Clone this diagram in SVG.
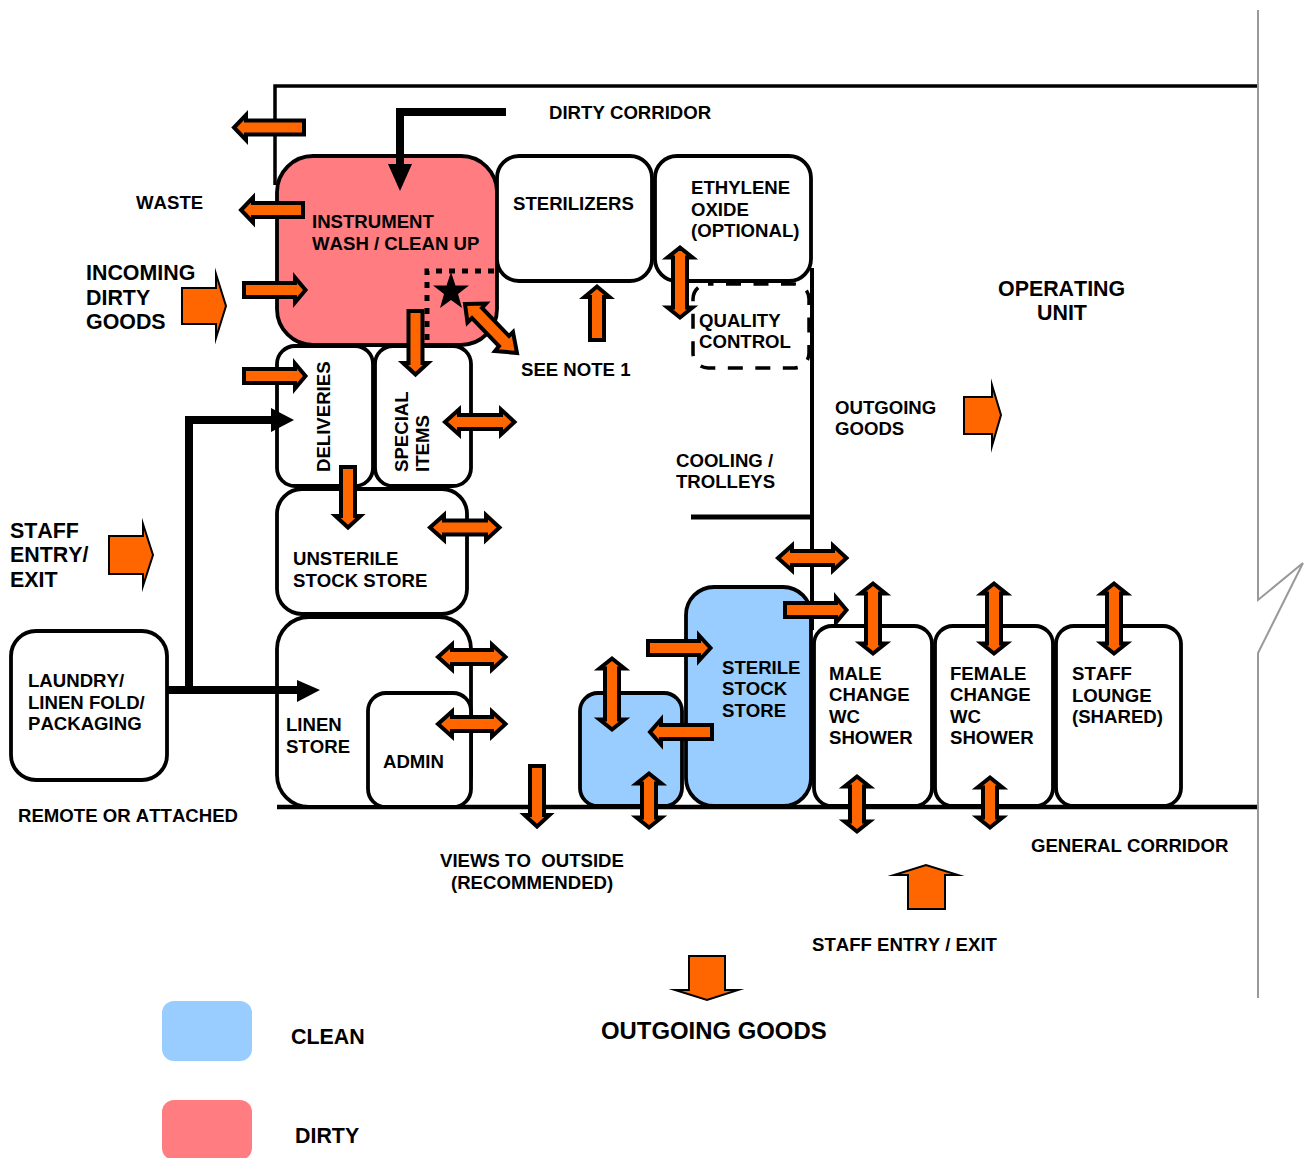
<svg xmlns="http://www.w3.org/2000/svg" width="1310" height="1158" viewBox="0 0 1310 1158">
<style>
.r{fill:#fff;stroke:#000;stroke-width:3.8}
.d{fill:#ff7c80}
.c{fill:#9cf}
.a{fill:#f60;stroke:#000;stroke-width:4;stroke-miterlimit:6}
.b{fill:#f60;stroke:#000;stroke-width:2;stroke-miterlimit:8}
.l{fill:none;stroke:#000}
text{font-family:"Liberation Sans",Arial,sans-serif;font-weight:700;font-size:18.6px;fill:#000;font-kerning:none;white-space:pre}
.m{font-size:21.4px}
.h{font-size:23.9px}
</style>
<rect width="1310" height="1158" fill="#fff"/>
<g id="walls" fill="none" stroke="#000">
<path d="M275 185V86H1258" stroke-width="3.5"/>
<path d="M812 268V630" stroke-width="4"/>
<path d="M691 517H812" stroke-width="5"/>
<path d="M277 807H1258" stroke-width="4.500"/>
<path d="M1258 10V600L1303 563L1258 653V998" stroke="#999" stroke-width="2"/>
</g>
<g id="instrument"><rect class="r d" x="277" y="156" width="220" height="189" rx="36"/><text x="312" y="228">INSTRUMENT</text><text x="312" y="250">WASH / CLEAN UP</text></g>
<g id="sterilizers"><rect class="r" x="497" y="156" width="155" height="125" rx="22"/><text x="513" y="210">STERILIZERS</text></g>
<g id="ethylene"><rect class="r" x="655" y="156" width="156" height="125" rx="22"/><text x="691" y="194">ETHYLENE</text><text x="691" y="216">OXIDE</text><text x="691" y="237">(OPTIONAL)</text></g>
<g id="quality"><rect x="693" y="284" width="116" height="84" rx="15" fill="#fff" stroke="#000" stroke-width="3.500" stroke-dasharray="15 12.500" stroke-dashoffset="9.500"/><text x="699" y="327">QUALITY</text><text x="699" y="348">CONTROL</text></g>
<g id="deliveries"><rect class="r" x="277" y="346" width="96" height="140" rx="18"/><text transform="translate(330,472) rotate(-90)">DELIVERIES</text></g>
<g id="special"><rect class="r" x="375" y="346" width="96" height="140" rx="18"/><text transform="translate(408,472) rotate(-90)">SPECIAL</text><text transform="translate(429,472) rotate(-90)">ITEMS</text></g>
<g id="unsterile"><rect class="r" x="277" y="489" width="190" height="125" rx="25"/><text x="293" y="565">UNSTERILE</text><text x="293" y="587">STOCK STORE</text></g>
<g id="linen"><rect class="r" x="277" y="617" width="194" height="190" rx="32"/><text x="286" y="731">LINEN</text><text x="286" y="753">STORE</text></g>
<g id="admin"><rect class="r" x="368" y="693" width="103" height="114" rx="18"/><text x="383" y="768">ADMIN</text></g>
<g id="laundry"><rect class="r" x="11" y="631" width="156" height="149" rx="25"/><text x="28" y="687">LAUNDRY/</text><text x="28" y="709">LINEN FOLD/</text><text x="28" y="730">PACKAGING</text></g>
<g id="sterile"><rect class="r c" x="686" y="587" width="125" height="219" rx="28"/><text x="722" y="674">STERILE</text><text x="722" y="695">STOCK</text><text x="722" y="717">STORE</text></g>
<g id="clean-small"><rect class="r c" x="580" y="693" width="102" height="113" rx="18"/></g>
<g id="male"><rect class="r" x="814" y="626" width="118" height="180" rx="18"/><text x="829" y="680">MALE</text><text x="829" y="701">CHANGE</text><text x="829" y="723">WC</text><text x="829" y="744">SHOWER</text></g>
<g id="female"><rect class="r" x="935" y="626" width="118" height="180" rx="18"/><text x="950" y="680">FEMALE</text><text x="950" y="701">CHANGE</text><text x="950" y="723">WC</text><text x="950" y="744">SHOWER</text></g>
<g id="lounge"><rect class="r" x="1056" y="626" width="125" height="180" rx="18"/><text x="1072" y="680">STAFF</text><text x="1072" y="702">LOUNGE</text><text x="1072" y="723">(SHARED)</text></g>
<g id="legend-clean"><rect x="162" y="1001" width="90" height="60" rx="12" fill="#9cf"/><text x="291" y="1044" class="m">CLEAN</text></g>
<g id="legend-dirty"><rect x="162" y="1100" width="90" height="60" rx="12" fill="#ff7c80"/><text x="295" y="1143" class="m">DIRTY</text></g>
<g id="labels">
<text x="549" y="119">DIRTY CORRIDOR</text>
<text x="136" y="209">WASTE</text>
<text x="86" y="280" class="m">INCOMING</text><text x="86" y="305" class="m">DIRTY</text><text x="86" y="329" class="m">GOODS</text>
<text x="521" y="376">SEE NOTE 1</text>
<text x="998" y="296" class="m">OPERATING</text><text x="1037" y="320" class="m">UNIT</text>
<text x="835" y="414">OUTGOING</text><text x="835" y="435">GOODS</text>
<text x="676" y="467">COOLING /</text><text x="676" y="488">TROLLEYS</text>
<text x="10" y="538" class="m">STAFF</text><text x="10" y="562" class="m">ENTRY/</text><text x="10" y="587" class="m">EXIT</text>
<text x="18" y="822">REMOTE OR ATTACHED</text>
<text x="440" y="867">VIEWS TO  OUTSIDE</text><text x="451" y="889">(RECOMMENDED)</text>
<text x="1031" y="852">GENERAL CORRIDOR</text>
<text x="812" y="951">STAFF ENTRY / EXIT</text>
<text x="601" y="1039" class="h">OUTGOING GOODS</text>
</g>
<g id="connectors">
<path class="l" stroke-width="8" d="M506 112H400V165"/>
<polygon points="388,164 412,164 400,191"/>
<path class="l" stroke-width="8" d="M168 690H298M189 690V420H272"/>
<polygon points="297,680 320,690 297,702"/>
<polygon points="271,408 294,420 271,432"/>
<path class="l" stroke-width="5" stroke-dasharray="6 7" d="M494 271H427V345"/>
<polygon points="451,272 455.500,285.500 469,285.500 458,294 462,308 451,300 440,308 444,294 433,285.500 446.500,285.500"/>
<g>
<polygon class="a" points="304,120.500 246,120.500 246,115 234,127.500 246,140 246,134.500 304,134.500"/>
<polygon class="a" points="303,203 253,203 253,197.500 241,210 253,222.500 253,217 303,217"/>
<polygon class="a" points="244,283 295,283 295,277.500 305.500,290 295,302.500 295,297 244,297"/>
<polygon class="a" points="244,369 295,369 295,363.500 305.500,376 295,388.500 295,383 244,383"/>
<polygon class="a" points="445,422 459,409.500 459,415 501,415 501,409.500 514.500,422 501,434.500 501,429 459,429 459,434.500"/>
<polygon class="a" points="430,527.500 444,515 444,520.500 486,520.500 486,515 499.500,527.500 486,540 486,534.500 444,534.500 444,540"/>
<polygon class="a" points="438,657 452,644.500 452,650 492,650 492,644.500 505.500,657 492,669.500 492,664 452,664 452,669.500"/>
<polygon class="a" points="438,724 452,711.500 452,717 492,717 492,711.500 505.500,724 492,736.500 492,731 452,731 452,736.500"/>
<polygon class="a" points="778,558 792,545.500 792,551 833,551 833,545.500 846.500,558 833,570.500 833,565 792,565 792,570.500"/>
<polygon class="a" points="785,603 836,603 836,597.500 846.500,610 836,622.500 836,617 785,617"/>
<polygon class="a" points="648,641 699,641 699,635.500 710.500,648 699,660.500 699,655 648,655"/>
<polygon class="a" points="712,725 661,725 661,719.500 650,732 661,744.500 661,739 712,739"/>
<polygon class="a" points="680,247.500 692.500,257.500 687,257.500 687,307.500 692.500,307.500 680,317.500 667.500,307.500 673,307.500 673,257.500 667.500,257.500"/>
<polygon class="a" points="612,658.500 624.500,668.500 619,668.500 619,719.500 624.500,719.500 612,729.500 599.500,719.500 605,719.500 605,668.500 599.500,668.500"/>
<polygon class="a" points="649,773.500 661.500,783.500 656,783.500 656,817.500 661.500,817.500 649,827.500 636.500,817.500 642,817.500 642,783.500 636.500,783.500"/>
<polygon class="a" points="857,776.500 869.500,786.500 864,786.500 864,821.500 869.500,821.500 857,831.500 844.500,821.500 850,821.500 850,786.500 844.500,786.500"/>
<polygon class="a" points="990,777.500 1002.500,787.500 997,787.500 997,817.500 1002.500,817.500 990,827.500 977.500,817.500 983,817.500 983,787.500 977.500,787.500"/>
<polygon class="a" points="873,583.500 885.500,593.500 880,593.500 880,643.500 885.500,643.500 873,653.500 860.500,643.500 866,643.500 866,593.500 860.500,593.500"/>
<polygon class="a" points="994,583.500 1006.500,593.500 1001,593.500 1001,643.500 1006.500,643.500 994,653.500 981.500,643.500 987,643.500 987,593.500 981.500,593.500"/>
<polygon class="a" points="1114,583.500 1126.500,593.500 1121,593.500 1121,643.500 1126.500,643.500 1114,653.500 1101.500,643.500 1107,643.500 1107,593.500 1101.500,593.500"/>
<polygon class="a" points="408.500,311 422.500,311 422.500,363 428,363 415.500,374.500 403,363 408.500,363"/>
<polygon class="a" points="341,467 355,467 355,516 360.500,516 348,527.500 335.500,516 341,516"/>
<polygon class="a" points="530,766 544,766 544,815 549.500,815 537,826.500 524.500,815 530,815"/>
<polygon class="a" points="590,340 604,340 604,297 609.500,297 597,286.500 584.500,297 590,297"/>
<polygon class="a" points="465,304 486,303.500 482,308 509,336 513,332 517,353 495,351 499,346 472,318 467.500,322.500"/>
</g>
<polygon class="b" points="182,288 216,288 216,274 226,306 216,338 216,324 182,324"/>
<polygon class="b" points="109,536 143,536 143,524 153,555 143,586 143,574 109,574"/>
<polygon class="b" points="964,397 992,397 992,385 1001,415 992,446 992,434 964,434"/>
<polygon class="b" points="908,909 945,909 945,875 958,875 926,865 894,875 908,875"/>
<polygon class="b" points="689,956 725,956 725,990 738,990 707,1000 675,990 689,990"/>
</g>
</svg>
